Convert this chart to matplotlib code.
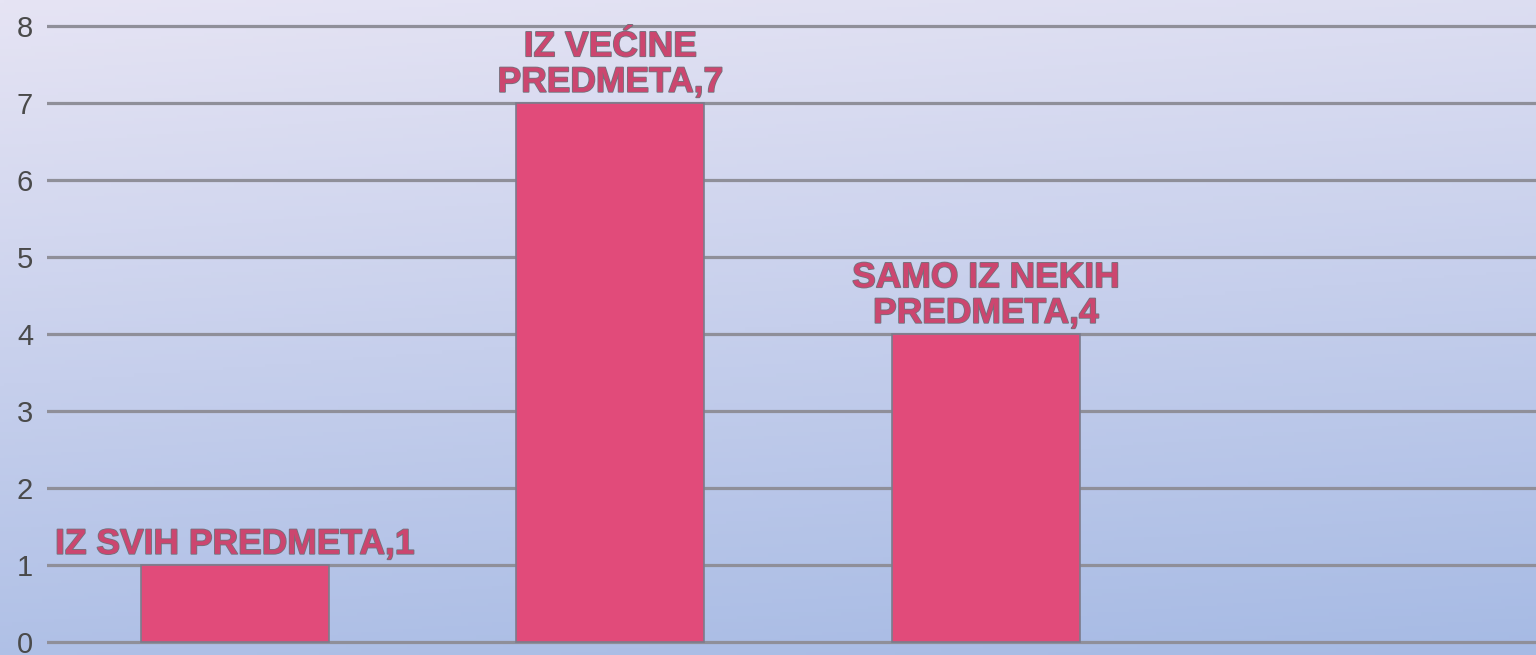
import numpy as np
import matplotlib.pyplot as plt
import matplotlib.patheffects as pe

# categories and values
categories = ["IZ SVIH PREDMETA", "IZ VEĆINE\nPREDMETA", "SAMO IZ NEKIH\nPREDMETA"]
values = [1, 7, 4]
yticks = [0, 1, 2, 3, 4, 5, 6, 7, 8]

bar_color = "#E14B7A"
label_color = "#CC466F"
grid_color = "#8F8F99"

fig = plt.figure(figsize=(15.36, 6.55), dpi=100)

# background gradient over the whole figure
bg = fig.add_axes([0, 0, 1, 1], zorder=0)
h, w = 200, 400
yy, xx = np.mgrid[0:1:h * 1j, 0:1:w * 1j]
t = np.clip(0.85 * yy + 0.15 * xx, 0, 1)
top = np.array([230, 228, 244]) / 255
bottom = np.array([166, 186, 228]) / 255
img = top[None, None, :] * (1 - t[..., None]) + bottom[None, None, :] * t[..., None]
bg.imshow(img, aspect="auto", extent=[0, 1, 0, 1], origin="upper")
bg.axis("off")

ax = fig.add_axes([47 / 1536, 0, 1 - 47 / 1536, 1], zorder=1)
ax.patch.set_alpha(0)

x = np.arange(len(values))
ax.bar(x, values, width=0.5, color=bar_color, edgecolor="#7C7C8C", linewidth=1.2, zorder=3)

for xi, cat, v in zip(x, categories, values):
    ax.annotate(f"{cat},{v}", (xi, v), xytext=(0, 3), textcoords="offset points",
                ha="center", va="bottom", fontsize=25.5, fontweight="bold",
                family="Liberation Sans", color=label_color, linespacing=1.1,
                path_effects=[pe.withStroke(linewidth=1.2, foreground="#72727C")],
                zorder=4)

ax.set_xlim(-0.5, 3.465)
ax.set_ylim(-0.169, 8.338)
ax.set_yticks(yticks)
ax.yaxis.grid(True, color=grid_color, linewidth=2.3, zorder=1)
ax.set_axisbelow(True)
ax.tick_params(axis="y", length=0, pad=10, labelsize=21, labelcolor="#4A4A4A")
for lab in ax.get_yticklabels():
    lab.set_family("Liberation Sans")
ax.set_xticks([])
for s in ax.spines.values():
    s.set_visible(False)

fig.savefig("out.png", dpi=100)
